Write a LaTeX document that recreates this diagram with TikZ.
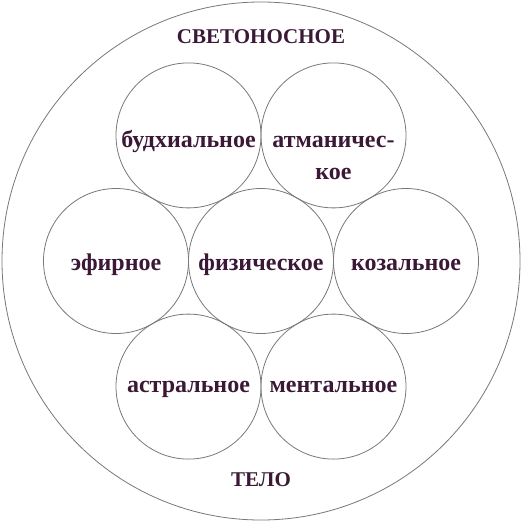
\documentclass[tikz,border=0pt]{standalone}
\usepackage{fontspec}
\setmainfont{Liberation Serif}
\usepackage{tikz}
\usetikzlibrary{positioning}
\definecolor{ink}{RGB}{58,24,54}
\definecolor{rim}{RGB}{120,120,120}
\tikzset{
	layer/.style={circle,draw=rim,line width=0.8pt,minimum size=145pt,inner sep=0pt,outer sep=0pt},
	word/.style={text=ink,font=\bfseries\fontsize{24}{32}\selectfont,inner sep=0pt},
	title/.style={text=ink,font=\bfseries\fontsize{21}{26}\selectfont,inner sep=0pt}
}
\begin{document}
\begin{tikzpicture}[x=1pt,y=-1pt]
	\useasboundingbox (0,0) rectangle (522,522);
	\node [circle,draw=rim,line width=0.8pt,minimum size=518pt,inner sep=0pt] at (261,261) (Body) {};
	% seven bodies
	\node [layer] at (261,261) (Phys) {};
	\node [layer,anchor=east] at (Phys.west) (Ether) {};
	\node [layer,anchor=west] at (Phys.east) (Causal) {};
	\node [layer] at (188.5,135.4) (Buddhi) {};
	\node [layer] at (333.5,135.4) (Atma) {};
	\node [layer] at (188.5,386.6) (Astral) {};
	\node [layer] at (333.5,386.6) (Mental) {};
	% labels
	\node [word,anchor=base] at ([yshift=-9pt]Phys.center) (PhysL) {физическое};
	\node [word,anchor=base] at ([yshift=-9pt]Ether.center) (EtherL) {эфирное};
	\node [word,anchor=base] at ([yshift=-9pt]Causal.center) (CausalL) {козальное};
	\node [word,anchor=base] at ([yshift=-12pt]Buddhi.center) (BuddhiL) {будхиальное};
	\node [word,align=center] at ([yshift=-23pt]Atma.center) (AtmaL) {атманичес-\\кое};
	\node [word,anchor=base] at ([yshift=-6pt]Astral.center) (AstralL) {астральное};
	\node [word,anchor=base] at ([yshift=-6pt]Mental.center) (MentalL) {ментальное};
	\node [title] at (261,37) (Top) {СВЕТОНОСНОЕ};
	\node [title] at (261,480) (Bottom) {ТЕЛО};
\end{tikzpicture}
\end{document}
